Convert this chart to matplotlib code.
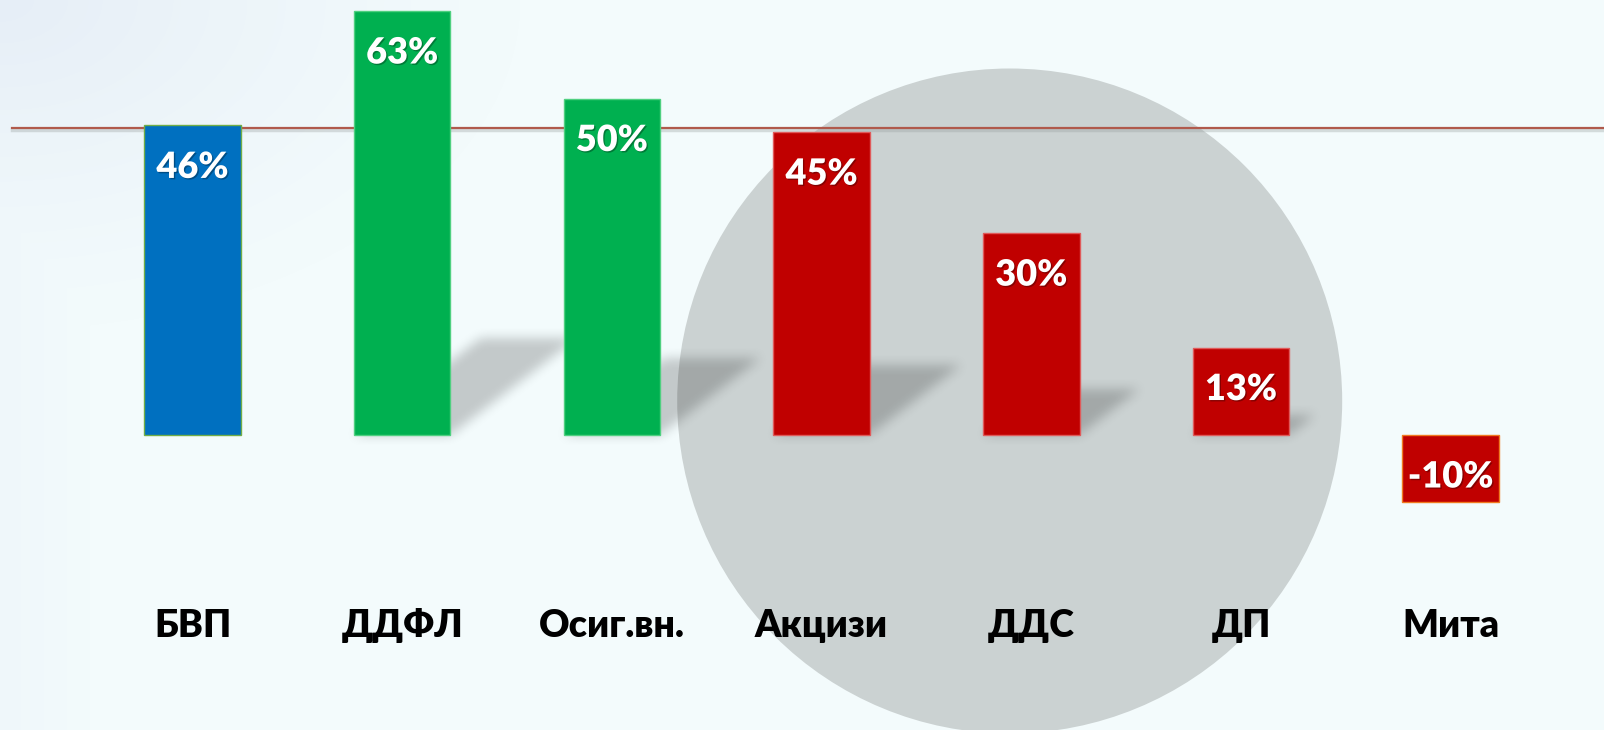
import numpy as np
import matplotlib
matplotlib.use("Agg")
import matplotlib.pyplot as plt
from matplotlib.patches import Ellipse
import matplotlib.patheffects as pe

categories = ["БВП", "ДДФЛ", "Осиг.вн.", "Акцизи", "ДДС", "ДП", "Мита"]
values = [46, 63, 50, 45, 30, 13, -10]
labels = ["46%", "63%", "50%", "45%", "30%", "13%", "-10%"]
colors = ["#0070c0", "#00b050", "#00b050", "#c00000", "#c00000", "#c00000", "#c00000"]
edges = ["#70ad47", "#4fd080", "#4fd080", "#e05a5a", "#e05a5a", "#e05a5a", "#f07a20"]
has_shadow = [False, True, True, True, True, True, False]
ref_level = 45.6

W, H = 1604, 730
fig = plt.figure(figsize=(W / 100, H / 100), dpi=100)
fonts = ["Lato", "Noto Sans", "DejaVu Sans"]

# background gradient
bg_ax = fig.add_axes([0, 0, 1, 1], zorder=0)
yy, xx = np.mgrid[0:H, 0:W]
base = np.array([243, 251, 252]) / 255
tint = np.array([230, 238, 247]) / 255
f = np.clip(1 - np.hypot(xx / 520, yy / 330), 0, 1) ** 1.2
f = np.maximum(f, 0.3 * np.clip(1 - xx / 90, 0, 1))
bg = base[None, None, :] * (1 - f[..., None]) + tint[None, None, :] * f[..., None]
bg_ax.imshow(bg, extent=(0, 1, 0, 1), aspect="auto")
bg_ax.axis("off")

ax = fig.add_axes([0, 0, 1, 1], zorder=1)
ax.patch.set_alpha(0)
x = np.arange(len(categories))
xlim = (-0.918, 6.731)
ylim = (-43.83, 64.64)
ax.set_xlim(*xlim)
ax.set_ylim(*ylim)
ax.axis("off")

# big grey circle
ax.add_patch(Ellipse((1009.7 / W, 1 - 401 / H), 2 * 332.5 / W, 2 * 332.5 / H,
                     transform=ax.transAxes, color="#cbd2d2", zorder=1, lw=0))

# blurred diagonal shadows behind bars
gx = np.linspace(xlim[0], xlim[1], W)
gy = np.linspace(ylim[1], ylim[0], H)
GX, GY = np.meshgrid(gx, gy)
mask = np.zeros((H, W))
bw = 0.46
for xi, v, s in zip(x, values, has_shadow):
    if not s:
        continue
    rise = 0.23 * v
    dx = 0.00963 * v
    t = GY / rise
    inside = (GY >= 0) & (GY <= rise) & (GX >= xi - bw / 2 + t * dx) & (GX <= xi + bw / 2 + t * dx)
    mask = np.maximum(mask, inside.astype(float))


def box_blur(a, r):
    k = np.ones(2 * r + 1) / (2 * r + 1)
    a = np.apply_along_axis(lambda m: np.convolve(m, k, mode="same"), 0, a)
    a = np.apply_along_axis(lambda m: np.convolve(m, k, mode="same"), 1, a)
    return a


mask = box_blur(box_blur(mask, 6), 6)
shadow = np.zeros((H, W, 4))
shadow[..., 3] = 0.2 * mask
ax.imshow(shadow, extent=(xlim[0], xlim[1], ylim[0], ylim[1]), aspect="auto", zorder=2)

# reference line
ax.axhline(ref_level - 0.35, xmin=12 / W, xmax=1, color="#9aa0a0", lw=2.5, alpha=0.35, zorder=3)
ax.axhline(ref_level, xmin=12 / W, xmax=1, color="#b05a4c", lw=1.6, zorder=3)

ax.bar(x, values, width=bw, color=colors, edgecolor=edges, linewidth=1.0, zorder=4)

for xi, v, lab in zip(x, values, labels):
    ax.text(xi, max(v, 0) - 7.8, lab, ha="center", va="baseline", color="white",
            fontsize=26, fontweight="heavy", family=fonts, zorder=5,
            path_effects=[pe.withSimplePatchShadow(offset=(1, -1), shadow_rgbFace="#000000", alpha=0.3)])

for xi, c in zip(x, categories):
    ax.text(xi, -30.0, c, ha="center", va="baseline", color="black",
            fontsize=27, fontweight="heavy", family=fonts, zorder=5)

fig.savefig("out.png", dpi=100)
